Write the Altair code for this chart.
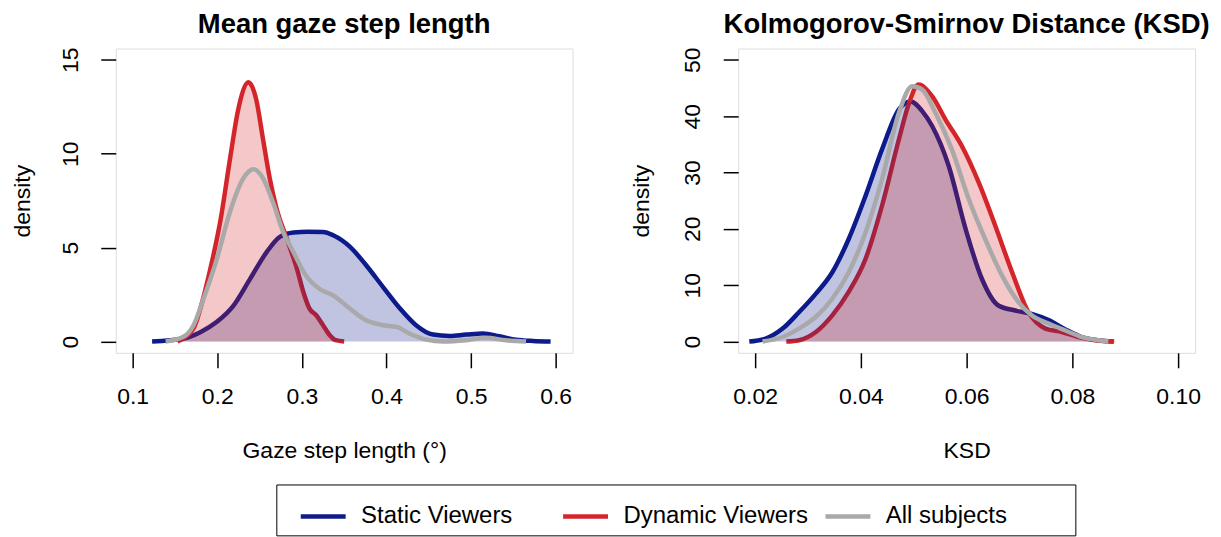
import altair as alt
import pandas as pd

# ---------------- data ----------------
groups = ["Static Viewers", "Dynamic Viewers", "All subjects"]
colors = ["#0D1B8C", "#D4252B", "#A9A9A9"]

# Panel 1: Mean gaze step length
step_static_x = [0.123, 0.160, 0.180, 0.1996, 0.219, 0.239, 0.259, 0.274, 0.290, 0.307, 0.325, 0.337,
                 0.357, 0.376, 0.396, 0.416, 0.435, 0.455, 0.475, 0.494, 0.514, 0.533, 0.553, 0.573, 0.594]
step_static_y = [0, 0.16, 0.5, 1.05, 1.9, 3.35, 4.8, 5.57, 5.8, 5.84, 5.83, 5.66,
                 5.04, 4.06, 2.9, 1.76, 0.87, 0.37, 0.3, 0.37, 0.43, 0.28, 0.1, 0.03, 0]
step_dynamic_x = [0.153, 0.172, 0.180, 0.192, 0.204, 0.215, 0.225, 0.237, 0.246, 0.254, 0.262,
                  0.270, 0.282, 0.294, 0.302, 0.309, 0.317, 0.325, 0.333, 0.340, 0.350]
step_dynamic_y = [0, 0.7, 1.75, 3.9, 6.5, 9.7, 12.4, 13.8, 12.9, 10.8, 8.7,
                  7.1, 5.5, 3.9, 2.6, 1.75, 1.4, 0.87, 0.34, 0.07, 0]
step_all_x = [0.139, 0.160, 0.172, 0.184, 0.1996, 0.215, 0.231, 0.243, 0.254, 0.266, 0.278, 0.290, 0.305,
              0.321, 0.337, 0.357, 0.376, 0.396, 0.412, 0.427, 0.447, 0.467, 0.494, 0.517, 0.541, 0.565]
step_all_y = [0, 0.25, 0.87, 2.3, 4.4, 6.9, 8.7, 9.17, 8.7, 7.4, 5.83, 4.77, 3.5,
              2.8, 2.46, 1.75, 1.13, 0.87, 0.78, 0.43, 0.1, 0, 0.07, 0.2, 0.07, 0]

# Panel 2: Kolmogorov-Smirnov Distance
ksd_static_x = [0.0189, 0.0220, 0.0252, 0.0283, 0.0315, 0.0346, 0.0377, 0.0409, 0.0440, 0.0472, 0.0494, 0.0516,
                0.0535, 0.0566, 0.0598, 0.0629, 0.0660, 0.0692, 0.0723, 0.0755, 0.0786, 0.0818, 0.0849, 0.0877]
ksd_static_y = [0, 0.53, 2.3, 5.2, 8.5, 12.3, 18.2, 25.9, 34.1, 41.2, 42.6, 40.9,
                38.2, 31.2, 20.0, 11.1, 6.4, 5.5, 4.9, 3.8, 2.2, 0.8, 0.24, 0]
ksd_dynamic_x = [0.0259, 0.0283, 0.0315, 0.0346, 0.0377, 0.0409, 0.0440, 0.0472, 0.0491, 0.0509, 0.0535,
                 0.0560, 0.0591, 0.0623, 0.0654, 0.0686, 0.0717, 0.0749, 0.0780, 0.0811, 0.0843, 0.0879]
ksd_dynamic_y = [0, 0.24, 1.7, 4.65, 8.8, 14.7, 24.1, 35.9, 42.3, 45.6, 43.5,
                 39.4, 34.7, 28.2, 20.6, 12.3, 5.2, 2.3, 1.7, 0.8, 0.24, 0]
ksd_all_x = [0.0214, 0.0252, 0.0283, 0.0315, 0.0346, 0.0377, 0.0409, 0.0440, 0.0472, 0.0497, 0.0516, 0.0541,
             0.0572, 0.0604, 0.0635, 0.0667, 0.0698, 0.0723, 0.0755, 0.0786, 0.0818, 0.0849, 0.0868]
ksd_all_y = [0, 0.8, 2.3, 4.4, 7.6, 12.3, 19.4, 28.8, 40.6, 45.3, 44.7, 40.6,
             34.1, 25.3, 18.2, 11.7, 7.0, 4.65, 3.2, 2.0, 0.8, 0.24, 0]

step_ticks_x = [0.1, 0.2, 0.3, 0.4, 0.5, 0.6]
step_ticks_y = [0, 5, 10, 15]
ksd_ticks_x = [0.02, 0.04, 0.06, 0.08, 0.10]
ksd_ticks_y = [0, 10, 20, 30, 40, 50]

FONT = "Liberation Sans"


def frame(xs_list, ys_list):
    rows = []
    for g, xs, ys in zip(groups, xs_list, ys_list):
        for i, (x, y) in enumerate(zip(xs, ys)):
            rows.append({"group": g, "x": x, "density": y, "i": i})
    return pd.DataFrame(rows)


step_df = frame([step_static_x, step_dynamic_x, step_all_x], [step_static_y, step_dynamic_y, step_all_y])
ksd_df = frame([ksd_static_x, ksd_dynamic_x, ksd_all_x], [ksd_static_y, ksd_dynamic_y, ksd_all_y])

legend = alt.Legend(
    # a blank title on the right only widens the frame, as in the reference
    title="\u00a0", titleOrient="right", titlePadding=62, titleFontSize=24, titleFont=FONT,
    orient="none", direction="horizontal", columns=3,
    legendX=161, legendY=437,
    symbolType="stroke", symbolSize=2025, symbolStrokeWidth=4.5, symbolOpacity=1, symbolOffset=15,
    labelFont=FONT, labelFontSize=24, labelColor="black", labelOffset=13,
    labelBaseline="middle", labelLimit=400,
    columnPadding=-2, gridAlign="all",
    strokeColor="black", padding=7, fillColor="white",
)
color_scale = alt.Scale(domain=groups, range=colors)


def panel(df, title, xtitle, xdom, xticks, xfmt, ydom, yticks, ylabpad, ytitlex):
    W, H = 458, 305
    x = alt.X("x:Q", scale=alt.Scale(domain=xdom, nice=False, zero=False),
              axis=alt.Axis(values=xticks, format=xfmt, title=xtitle, grid=False, domain=False,
                            tickSize=15, tickWidth=1.5, tickColor="black",
                            labelFont=FONT, labelFontSize=23, labelColor="black",
                            labelBaseline="alphabetic", labelPadding=36, labelFlush=False,
                            titleFont=FONT, titleFontSize=23, titleFontWeight="normal", titleColor="black",
                            titleBaseline="alphabetic", titleY=105, titleX=W / 2, titleAlign="center"))
    y = alt.Y("density:Q", stack=None, scale=alt.Scale(domain=ydom, nice=False, zero=False),
              axis=alt.Axis(values=yticks, format="d", title="density", grid=False, domain=False,
                            tickSize=15, tickWidth=1.5, tickColor="black",
                            labelFont=FONT, labelFontSize=23, labelColor="black",
                            labelAngle=270, labelAlign="center", labelBaseline="alphabetic",
                            labelPadding=ylabpad, labelFlush=False,
                            titleFont=FONT, titleFontSize=23, titleFontWeight="normal", titleColor="black",
                            titleAngle=270, titleBaseline="alphabetic", titleAlign="center",
                            titleX=ytitlex, titleY=H / 2))
    color = alt.Color("group:N", scale=color_scale, legend=legend)
    base = alt.Chart(df)

    def sel(g):
        return base.transform_filter(alt.datum.group == g)

    line_s = sel(groups[0]).mark_line(strokeWidth=4.5, interpolate="monotone").encode(x=x, y=y, color=color)
    line_d = sel(groups[1]).mark_line(strokeWidth=4.5, interpolate="monotone").encode(x=x, y=y, color=color)
    area_s = sel(groups[0]).mark_area(fillOpacity=0.26, interpolate="monotone").encode(x=x, y=y, color=color)
    area_d = sel(groups[1]).mark_area(fillOpacity=0.26, interpolate="monotone").encode(x=x, y=y, color=color)
    line_a = sel(groups[2]).mark_line(strokeWidth=4.5, interpolate="monotone").encode(x=x, y=y, color=color)
    return alt.layer(line_s, line_d, area_s, area_d, line_a).properties(
        width=W, height=H,
        title=alt.TitleParams(title, font=FONT, fontSize=27.5, fontWeight="bold", color="black",
                              anchor="middle", frame="group", offset=-13, baseline="alphabetic"))


left = panel(step_df, "Mean gaze step length", "Gaze step length (°)", [0.08, 0.62],
             step_ticks_x, ".1f", [-0.6, 15.6], step_ticks_y, 23, -86)
right = panel(ksd_df, "Kolmogorov-Smirnov Distance (KSD)", "KSD", [0.0168, 0.1032],
              ksd_ticks_x, ".2f", [-2, 52], ksd_ticks_y, 24, -90)

chart = alt.hconcat(left, right, spacing=166, bounds="flush").resolve_scale(color="shared").properties(
    padding={"left": 11, "top": 9, "right": 10, "bottom": 10}
).configure_view(stroke="black", strokeWidth=1.5, fill="white").configure(background="white")

chart.save("out.html", embed_options={"renderer": "svg", "actions": False})
